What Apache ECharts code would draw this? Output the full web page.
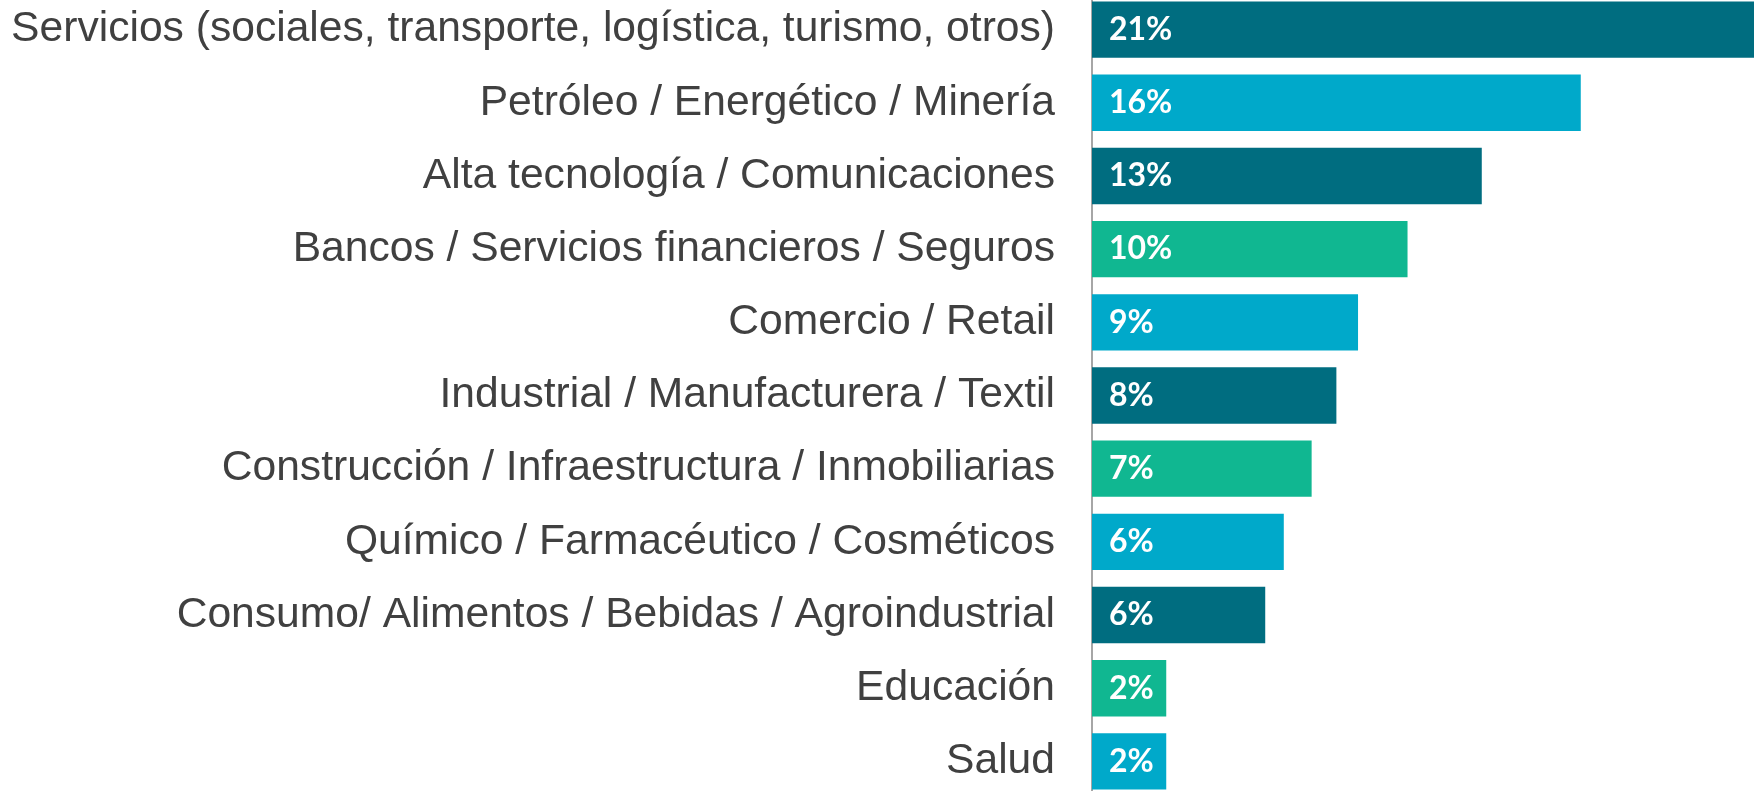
<!DOCTYPE html>
<html>
<head>
<meta charset="utf-8">
<script src="https://cdn.jsdelivr.net/npm/echarts@6/dist/echarts.min.js"></script>
<style>
html, body { margin: 0; padding: 0; background: #fff; overflow: hidden; }
/* chart box is a bit taller than the window so the outer half-gaps fall off-screen */
#main { position: absolute; left: 0; top: -7px; width: 1754px; height: 805px; }
</style>
</head>
<body>
<div id="main"></div>
<script>
var myChart = echarts.init(document.getElementById('main'));

// sectors, top to bottom
var sectors = [
    'Servicios (sociales, transporte, logística, turismo, otros)',
    'Petróleo / Energético / Minería',
    'Alta tecnología / Comunicaciones',
    'Bancos / Servicios financieros / Seguros',
    'Comercio / Retail',
    'Industrial / Manufacturera / Textil',
    'Construcción / Infraestructura / Inmobiliarias',
    'Químico / Farmacéutico / Cosméticos',
    'Consumo/ Alimentos / Bebidas / Agroindustrial',
    'Educación',
    'Salud'
];
// share in %
var shares = [21.4, 15.8, 12.6, 10.2, 8.6, 7.9, 7.1, 6.2, 5.6, 2.4, 2.4];
var barColors = ['#006d80', '#00a9ca', '#006d80', '#10b791', '#00a9ca', '#006d80',
                 '#10b791', '#00a9ca', '#006d80', '#10b791', '#00a9ca'];

var barData = shares.map(function (v, i) {
    return { value: v, itemStyle: { color: barColors[i] } };
});

myChart.setOption({
    backgroundColor: '#fff',
    animation: false,
    grid: {
        left: 1092,
        right: 0,
        top: 0,
        bottom: 0
    },
    xAxis: {
        type: 'value',
        min: 0,
        max: 21.4,
        show: false
    },
    yAxis: {
        type: 'category',
        inverse: true,
        data: sectors,
        axisLine: { show: true, lineStyle: { color: '#a6a6a6', width: 2 } },
        axisTick: { show: false },
        axisLabel: {
            margin: 37,
            color: '#404040',
            fontFamily: 'Liberation Sans, Arial, sans-serif',
            fontSize: 42.6
        }
    },
    series: [{
        type: 'bar',
        data: barData,
        barCategoryGap: '23%',
        label: {
            show: true,
            position: 'insideLeft',
            distance: 17,
            color: '#fff',
            fontFamily: 'Lato, sans-serif',
            fontWeight: 'bold',
            fontSize: 32,
            formatter: function (p) { return Math.round(p.value) + '%'; }
        }
    }]
});
</script>
</body>
</html>
